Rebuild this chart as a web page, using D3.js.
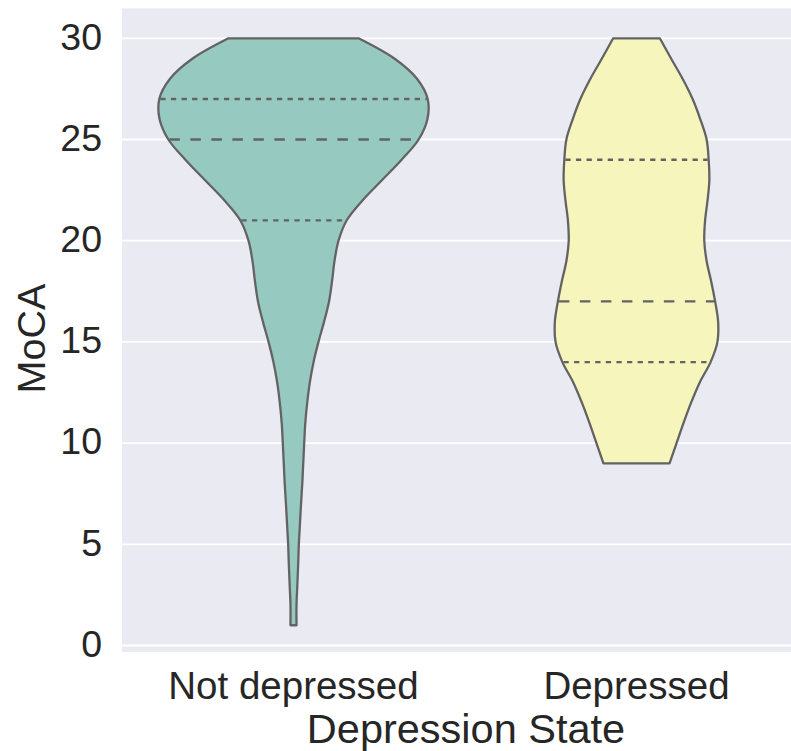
<!DOCTYPE html>
<html>
<head>
<meta charset="utf-8">
<script src="https://cdn.jsdelivr.net/npm/d3@7"></script>
<style>
  html, body { margin: 0; padding: 0; background: #ffffff; }
  svg { display: block; }
</style>
</head>
<body>
<svg id="chart" width="791" height="751"></svg>
<script>
// ---- data ----
const categories = ["Not depressed", "Depressed"];
const colors = ["#96cac1", "#f5f5bc"];
const yTicks = [0, 5, 10, 15, 20, 25, 30];
const yLimits = [-0.32, 31.48];

// MoCA support grid and relative density (violin half-width, 1 = widest)
const ndSupport = [30, 29, 28, 27, 26, 25, 24, 23, 22, 21, 20, 19, 18, 17, 16, 15, 14, 13, 12, 11, 10, 9, 8, 7, 6, 5, 4, 3, 2, 1];
const ndDensity = [0.474, 0.735, 0.900, 0.978, 0.976, 0.912, 0.788, 0.646, 0.504, 0.387, 0.328, 0.299, 0.281, 0.259, 0.223, 0.182, 0.146, 0.119, 0.100, 0.086, 0.078, 0.071, 0.064, 0.055, 0.047, 0.039, 0.034, 0.028, 0.022, 0.022];
const dSupport = [30, 29, 28, 27, 26, 25, 24, 23, 22, 21, 20, 19, 18, 17, 16, 15, 14, 13, 12, 11, 10, 9];
const dDensity = [0.170, 0.252, 0.336, 0.409, 0.465, 0.511, 0.526, 0.531, 0.518, 0.500, 0.494, 0.511, 0.544, 0.573, 0.595, 0.590, 0.540, 0.461, 0.398, 0.343, 0.292, 0.241];
// quartiles [q1, median, q3]
const ndQuartiles = [21, 25, 27];
const dQuartiles = [14, 17, 24];

const supports = [ndSupport, dSupport];
const densities = [ndDensity, dDensity];
const quartiles = [ndQuartiles, dQuartiles];

// ---- layout ----
const svg = d3.select("#chart");
const font = "'Liberation Sans', Arial, Helvetica, sans-serif";
const textColor = "#262626";
const edgeColor = "#636363";

const x = d3.scaleBand().domain(categories).range([122, 808]).padding(0);
const y = d3.scaleLinear().domain([0, 30]).range([645.5, 38.3]);
const w = d3.scaleLinear().domain([0, 1]).range([0, x.bandwidth() * 0.8 / 2]);

const defs = svg.append("defs");
defs.append("clipPath").attr("id", "plotclip")
  .append("rect")
  .attr("x", x.range()[0]).attr("y", y(yLimits[1]))
  .attr("width", x.range()[1] - x.range()[0])
  .attr("height", y(yLimits[0]) - y(yLimits[1]));

svg.append("rect")
  .attr("x", x.range()[0]).attr("y", y(yLimits[1]))
  .attr("width", x.range()[1] - x.range()[0])
  .attr("height", y(yLimits[0]) - y(yLimits[1]))
  .attr("fill", "#eaeaf2");

const plot = svg.append("g").attr("clip-path", "url(#plotclip)");

// gridlines
plot.append("g").selectAll("line").data(yTicks).join("line")
  .attr("x1", x.range()[0]).attr("x2", x.range()[1])
  .attr("y1", d => y(d)).attr("y2", d => y(d))
  .attr("stroke", "#ffffff").attr("stroke-width", 1.8);

// violins
categories.forEach((cat, i) => {
  const cx = x(cat) + x.bandwidth() / 2;
  const pts = supports[i].map((s, k) => ({ s, d: densities[i][k] }));
  const area = d3.area()
    .y(p => y(p.s))
    .x0(p => cx - w(p.d))
    .x1(p => cx + w(p.d))
    .curve(d3.curveCatmullRom.alpha(0.5));
  plot.append("path")
    .attr("d", area(pts))
    .attr("fill", colors[i])
    .attr("stroke", edgeColor)
    .attr("stroke-width", 2.3)
    .attr("stroke-linejoin", "round");

  const densAt = v => {
    const k = supports[i].indexOf(v);
    if (k >= 0) return densities[i][k];
    const sx = supports[i].slice().reverse();
    const dx = densities[i].slice().reverse();
    return d3.scaleLinear().domain(sx).range(dx)(v);
  };
  quartiles[i].forEach((q, j) => {
    const hw = w(densAt(q)) - 1;
    plot.append("line")
      .attr("x1", cx - hw).attr("x2", cx + hw)
      .attr("y1", y(q)).attr("y2", y(q))
      .attr("stroke", edgeColor)
      .attr("stroke-width", 2.3)
      .attr("stroke-dasharray", j === 1 ? "10.5,10.5" : "5.3,5.3");
  });
});

// y tick labels
svg.append("g").selectAll("text").data(yTicks).join("text")
  .attr("x", 102).attr("y", d => y(d))
  .attr("dy", "0.3em")
  .attr("text-anchor", "end")
  .attr("font-family", font).attr("font-size", 37.5)
  .attr("fill", textColor)
  .text(d => d);

// x tick labels
svg.append("g").selectAll("text").data(categories).join("text")
  .attr("x", d => x(d) + x.bandwidth() / 2).attr("y", 699)
  .attr("text-anchor", "middle")
  .attr("font-family", font).attr("font-size", 38.5)
  .attr("fill", textColor)
  .text(d => d);

// axis titles
svg.append("text")
  .attr("x", 466).attr("y", 743)
  .attr("text-anchor", "middle")
  .attr("font-family", font).attr("font-size", 41.5)
  .attr("fill", textColor)
  .text("Depression State");

svg.append("text")
  .attr("transform", "translate(45,338.5) rotate(-90)")
  .attr("text-anchor", "middle")
  .attr("font-family", font).attr("font-size", 39.5)
  .attr("fill", textColor)
  .text("MoCA");
</script>
</body>
</html>
